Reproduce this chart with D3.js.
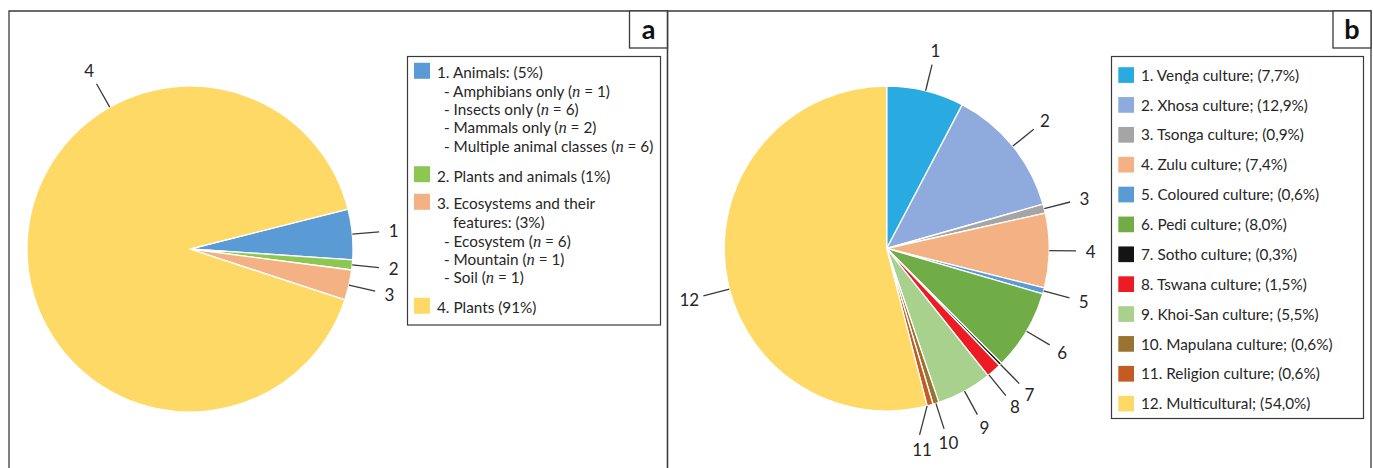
<!DOCTYPE html>
<html>
<head>
<meta charset="utf-8">
<script src="https://cdn.jsdelivr.net/npm/d3@7"></script>
<style>
  html, body { margin: 0; padding: 0; background: #fff; }
  svg { display: block; font-family: Lato, "Open Sans", sans-serif; }
</style>
</head>
<body>
<svg id="chart" width="1373" height="468"></svg>
<script>
// ---------- DATA ----------
// Panel a
const aCategories = ["Animals", "Plants and animals", "Ecosystems and their features", "Plants"];
const aValues = [5, 1, 3, 91];
const aSliceLabels = ["1", "2", "3", "4"];
const aColors = ["#5B9BD5", "#8CC751", "#F4B183", "#FFD966"];
// legend lines: [slice index or null (continuation), text]; *n* marks italic n
const aLegendLines = [
  [0, "1. Animals: (5%)"],
  [null, "- Amphibians only (*n* = 1)"],
  [null, "- Insects only (*n* = 6)"],
  [null, "- Mammals only (*n* = 2)"],
  [null, "- Multiple animal classes (*n* = 6)"],
  [1, "2. Plants and animals (1%)"],
  [2, "3. Ecosystems and their"],
  [null, "features: (3%)"],
  [null, "- Ecosystem (*n* = 6)"],
  [null, "- Mountain (*n* = 1)"],
  [null, "- Soil (*n* = 1)"],
  [3, "4. Plants (91%)"]
];

// Panel b
const bCategories = ["Venḓa culture", "Xhosa culture", "Tsonga culture", "Zulu culture",
  "Coloured culture", "Pedi culture", "Sotho culture", "Tswana culture",
  "Khoi-San culture", "Mapulana culture", "Religion culture", "Multicultural"];
const bValues = [7.7, 12.9, 0.9, 7.4, 0.6, 8.0, 0.3, 1.5, 5.5, 0.6, 0.6, 54.0];
const bValueLabels = ["7,7%", "12,9%", "0,9%", "7,4%", "0,6%", "8,0%", "0,3%", "1,5%", "5,5%", "0,6%", "0,6%", "54,0%"];
const bSliceLabels = ["1","2","3","4","5","6","7","8","9","10","11","12"];
const bColors = ["#29ABE2", "#8FAADC", "#A5A5A5", "#F4B183", "#5B9BD5", "#70AD47",
  "#141414", "#ED1C24", "#A9D18E", "#9A7330", "#C55A22", "#FFD966"];

// ---------- DRAWING ----------
const svg = d3.select("#chart");
const deg = Math.PI / 180;
const textColor = "#262626";
const lineColor = "#3a3a3a";

// panel frames
function panelFrame(x0, x1, letter) {
  const g = svg.append("g");
  g.append("path")
    .attr("d", `M${x0},470 L${x0},11 L${x1},11 L${x1},470`)
    .attr("fill", "none").attr("stroke", lineColor).attr("stroke-width", 1.3);
  g.append("rect").attr("x", x1 - 38).attr("y", 11).attr("width", 38).attr("height", 37)
    .attr("fill", "#fff").attr("stroke", lineColor).attr("stroke-width", 1.3);
  g.append("text").attr("x", x1 - 19).attr("y", 39)
    .attr("text-anchor", "middle").attr("font-weight", "bold")
    .attr("font-size", 27).attr("fill", "#111").text(letter);
}
panelFrame(9, 667.5, "a");
panelFrame(667.5, 1371, "b");

function drawPie(opts) {
  const { cx, cy, r, values, colors, labels, startAngle, labelAngles } = opts;
  const g = svg.append("g").attr("transform", `translate(${cx},${cy})`);
  const pie = d3.pie().sort(null).value(d => d)
    .startAngle(startAngle).endAngle(startAngle + 2 * Math.PI);
  const arcs = pie(values);
  const arc = d3.arc().innerRadius(0).outerRadius(r);
  g.selectAll("path.slice").data(arcs).enter().append("path")
    .attr("class", "slice")
    .attr("d", arc)
    .attr("fill", (d, i) => colors[i])
    .attr("stroke", "#fff").attr("stroke-width", 1.3).attr("stroke-linejoin", "round");

  const pt = (a, rad) => [Math.sin(a) * rad, -Math.cos(a) * rad];
  arcs.forEach((d, i) => {
    const mid = (d.startAngle + d.endAngle) / 2;
    const la = labelAngles[i] !== undefined ? labelAngles[i] : mid;
    const startA = Math.max(d.startAngle, Math.min(d.endAngle, la));
    const p0 = pt(startA, r);
    const p1 = pt(la, r * 1.165);
    const p2 = pt(la, r * 1.255);
    g.append("line")
      .attr("x1", p0[0]).attr("y1", p0[1]).attr("x2", p1[0]).attr("y2", p1[1])
      .attr("stroke", lineColor).attr("stroke-width", 1.3);
    g.append("text")
      .attr("x", p2[0]).attr("y", p2[1])
      .attr("text-anchor", "middle").attr("dominant-baseline", "central")
      .attr("font-size", 17).attr("fill", textColor)
      .text(labels[i]);
  });
}

drawPie({
  cx: 190, cy: 249, r: 163,
  values: aValues, colors: aColors, labels: aSliceLabels,
  startAngle: 75.8 * deg,
  labelAngles: { 3: 330.5 * deg }
});

drawPie({
  cx: 886.7, cy: 248.5, r: 162.5,
  values: bValues, colors: bColors, labels: bSliceLabels,
  startAngle: 0,
  labelAngles: { 7: 141 * deg, 10: 170 * deg, 11: 255.5 * deg }
});

// legend text with italic n
function addRichText(sel, str) {
  const parts = str.split("*");
  parts.forEach((p, k) => {
    const ts = sel.append("tspan").text(p);
    if (k % 2 === 1) {
      ts.attr("font-style", "italic").attr("font-family", "'Liberation Serif', serif").attr("font-size", 16.5);
    }
  });
}

const legendFont = 15.3;

// Legend a
(function () {
  const lg = svg.append("g");
  const box = { x: 407.5, y: 56.5, w: 253, h: 268.5 };
  lg.append("rect").attr("x", box.x).attr("y", box.y).attr("width", box.w).attr("height", box.h)
    .attr("fill", "#fff").attr("stroke", lineColor).attr("stroke-width", 1.2);
  // baselines of each legend line
  const yScale = d3.scaleOrdinal().domain(d3.range(aLegendLines.length))
    .range([78.3, 96.7, 115, 133.3, 151.7, 181.7, 209.3, 228.3, 246.7, 265, 283.3, 313.3]);
  aLegendLines.forEach((ln, i) => {
    const [idx, txt] = ln;
    const y = yScale(i);
    if (idx !== null) {
      lg.append("rect").attr("x", 414).attr("y", y - 15.5).attr("width", 16).attr("height", 16)
        .attr("fill", aColors[idx]);
    }
    let x = 437;
    if (idx === null) x = txt.startsWith("-") ? 444 : 453;
    const t = lg.append("text").attr("x", x).attr("y", y)
      .attr("font-size", legendFont).attr("fill", textColor);
    addRichText(t, txt);
  });
})();

// Legend b
(function () {
  const lg = svg.append("g");
  const box = { x: 1111.5, y: 56.5, w: 252, h: 362 };
  lg.append("rect").attr("x", box.x).attr("y", box.y).attr("width", box.w).attr("height", box.h)
    .attr("fill", "#fff").attr("stroke", lineColor).attr("stroke-width", 1.2);
  const y = d3.scalePoint().domain(d3.range(bCategories.length)).range([80.7, 409.3]);
  bCategories.forEach((c, i) => {
    lg.append("rect").attr("x", 1118.3).attr("y", y(i) - 13.5).attr("width", 15.7).attr("height", 15.7)
      .attr("fill", bColors[i]);
    lg.append("text").attr("x", 1141).attr("y", y(i))
      .attr("font-size", legendFont).attr("fill", textColor)
      .text(`${i + 1}. ${c}; (${bValueLabels[i]})`);
  });
})();
</script>
</body>
</html>
